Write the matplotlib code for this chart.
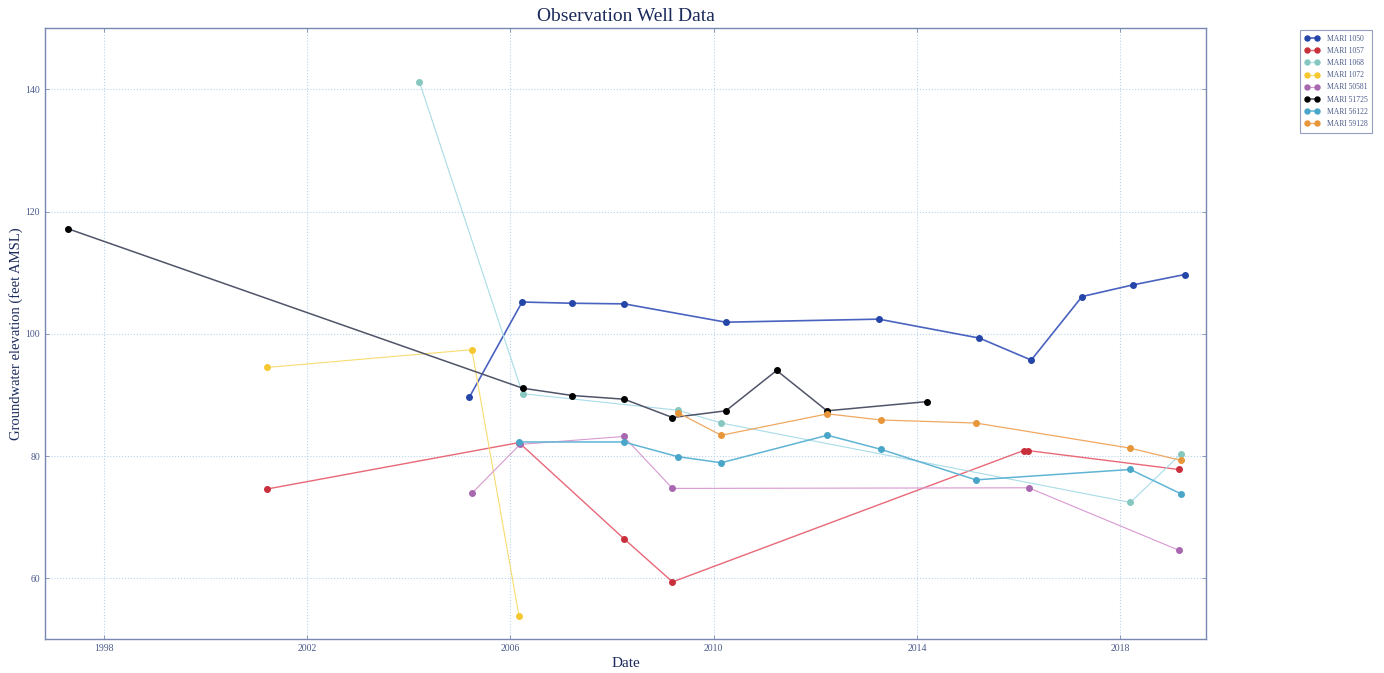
import matplotlib
matplotlib.use("Agg")
import matplotlib.pyplot as plt
from matplotlib.ticker import FormatStrFormatter

plt.rcParams['font.family'] = ['Liberation Serif', 'DejaVu Serif']

# ---- data (decimal years, feet AMSL) ----
wells = ["MARI 1050", "MARI 1057", "MARI 1068", "MARI 1072",
         "MARI 50581", "MARI 51725", "MARI 56122", "MARI 59128"]

x_1050 = [2005.19, 2006.23, 2007.22, 2008.24, 2010.24, 2013.25, 2015.23, 2016.25, 2017.25, 2018.25, 2019.27]
y_1050 = [89.6, 105.2, 105.0, 104.9, 101.9, 102.4, 99.3, 95.7, 106.1, 108.0, 109.7]

x_1057 = [2001.21, 2006.17, 2008.23, 2009.19, 2016.10, 2016.18, 2019.15]
y_1057 = [74.6, 82.2, 66.5, 59.4, 80.9, 80.9, 77.8]

x_1068 = [2004.21, 2006.24, 2009.29, 2010.15, 2018.20, 2019.19]
y_1068 = [141.2, 90.2, 87.5, 85.4, 72.4, 80.3]

x_1072 = [2001.21, 2005.24, 2006.17]
y_1072 = [94.5, 97.4, 53.8]

x_50581 = [2005.24, 2006.19, 2008.23, 2009.19, 2016.20, 2019.15]
y_50581 = [73.9, 81.9, 83.2, 74.7, 74.8, 64.6]

x_51725 = [1997.29, 2006.24, 2007.22, 2008.24, 2009.19, 2010.24, 2011.24, 2012.23, 2014.19]
y_51725 = [117.2, 91.1, 89.9, 89.3, 86.3, 87.4, 94.0, 87.4, 88.9]

x_56122 = [2006.17, 2008.23, 2009.29, 2010.15, 2012.24, 2013.29, 2015.16, 2018.20, 2019.20]
y_56122 = [82.3, 82.3, 79.9, 78.9, 83.4, 81.1, 76.1, 77.8, 73.8]

x_59128 = [2009.29, 2010.15, 2012.24, 2013.29, 2015.16, 2018.19, 2019.19]
y_59128 = [87.1, 83.4, 86.9, 85.9, 85.4, 81.3, 79.3]

x_ticks = [1998, 2002, 2006, 2010, 2014, 2018]
y_ticks = [60, 80, 100, 120, 140]

series_x = [x_1050, x_1057, x_1068, x_1072, x_50581, x_51725, x_56122, x_59128]
series_y = [y_1050, y_1057, y_1068, y_1072, y_50581, y_51725, y_56122, y_59128]

marker_colors = ["#2546a8", "#c8303c", "#86c8c0", "#f5c832", "#a868b0", "#000000", "#4aa6c8", "#e8963a"]
line_colors = ["#4a62c0", "#e86878", "#a8dce8", "#f8dc70", "#d898d0", "#505468", "#60b4d4", "#f0a860"]
line_widths = [1.2, 1.0, 0.8, 0.8, 0.8, 1.1, 1.1, 0.9]

fig = plt.figure(figsize=(13.84, 6.73), dpi=100)
ax = fig.add_axes([0.0325, 0.050, 0.8389, 0.908])

for name, xs, ys, mc, lc, lw in zip(wells, series_x, series_y, marker_colors, line_colors, line_widths):
    ax.plot(xs, ys, '-', color=lc, lw=lw, marker='o', markersize=4.0,
            markerfacecolor=mc, markeredgecolor=mc, label=name, zorder=3)

ax.set_xlim(1996.84, 2019.69)
ax.set_ylim(50, 150)
ax.set_xticks(x_ticks)
ax.xaxis.set_major_formatter(FormatStrFormatter('%d'))
ax.set_yticks(y_ticks)

ax.grid(True, color='#b8d4ec', linestyle=':', linewidth=0.8)
for sp in ax.spines.values():
    sp.set_color('#7888b0')
    sp.set_linewidth(1.0)
ax.tick_params(axis='both', direction='in', length=3, width=0.6, color='#7888b0',
               labelcolor='#4a5a8a', labelsize=7, top=True, right=True)

ax.set_title("Observation Well Data", fontsize=14, color='#1a2a5a', pad=5)
ax.set_xlabel("Date", fontsize=11, color='#1a2a5a', labelpad=3)
ax.set_ylabel("Groundwater elevation (feet AMSL)", fontsize=10.5, color='#1a2a5a', labelpad=2)

leg = fig.legend(loc='upper left', bbox_to_anchor=(0.9364, 0.961), fontsize=5.5,
                 frameon=True, handlelength=2.0, borderpad=0.6, labelspacing=0.55,
                 handletextpad=0.9, fancybox=False, numpoints=2, markerscale=0.9)
leg.get_frame().set_edgecolor('#7888b0')
leg.get_frame().set_linewidth(0.8)
for t in leg.get_texts():
    t.set_color('#4a5a8a')

fig.savefig("out.png", dpi=100)
